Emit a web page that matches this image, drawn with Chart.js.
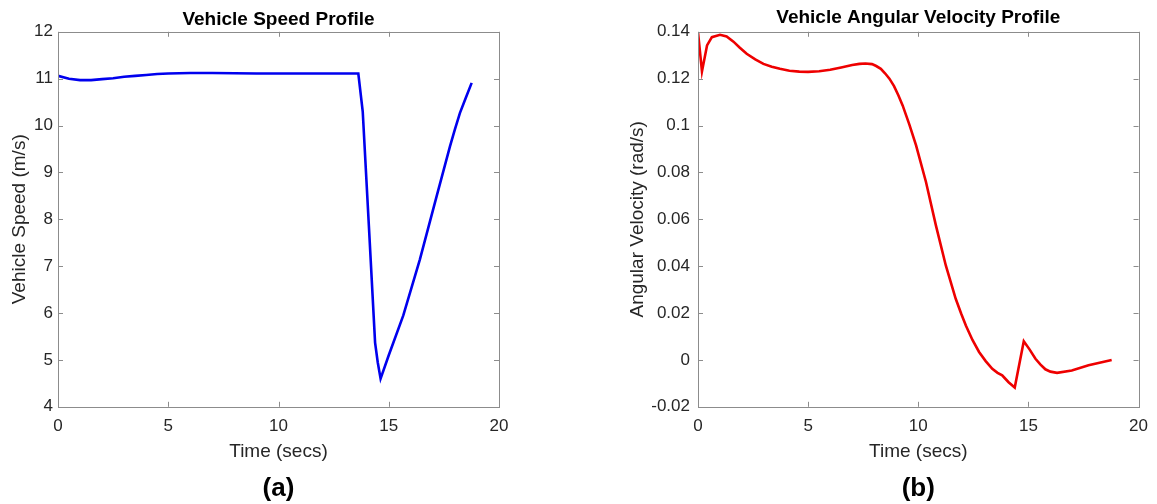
<!DOCTYPE html>
<html>
<head>
<meta charset="utf-8">
<script src="https://cdn.jsdelivr.net/npm/chart.js@4.4.1/dist/chart.umd.min.js"></script>
<style>
  html, body { margin: 0; padding: 0; background: #fff; }
  body { width: 1157px; height: 504px; position: relative; overflow: hidden; }
  canvas { position: absolute; top: 0; }
  #speedChart { left: 0; }
  #angularChart { left: 580px; }
</style>
</head>
<body>
<canvas id="speedChart" width="560" height="504"></canvas>
<canvas id="angularChart" width="577" height="504"></canvas>
<script>
// (a) vehicle speed
const speedTime = [0, 0.5, 1.0, 1.5, 2.0, 2.5, 3.0, 3.5, 4.0, 4.5, 5.0, 6.0, 7.0, 8.0, 9.0, 10.0, 11.0, 12.0, 13.0, 13.62,
  13.82, 14.1, 14.38, 14.5, 14.63, 15.0, 15.66, 16.41, 17.17, 17.78, 18.0, 18.23, 18.5, 18.76];
const speedValues = [11.06, 11.00, 10.97, 10.97, 10.99, 11.01, 11.04, 11.06, 11.08, 11.10, 11.11, 11.12, 11.12, 11.115, 11.11, 11.11, 11.11, 11.11, 11.11, 11.11,
  10.3, 7.85, 5.37, 4.95, 4.60, 5.1, 5.95, 7.14, 8.49, 9.56, 9.92, 10.27, 10.6, 10.91];

// (b) vehicle angular velocity
const angTime = [0, 0.18, 0.41, 0.63, 1.0, 1.3, 1.61, 1.9, 2.21, 2.6, 2.97, 3.35, 3.72, 4.15, 4.6, 5.0, 5.5, 6.0, 6.5, 7.0,
  7.33, 7.6, 7.9, 8.09, 8.3, 8.5, 8.69, 8.9, 9.1, 9.29, 9.6, 9.9, 10.35, 10.8, 11.25, 11.7, 11.95, 12.16, 12.46, 12.76,
  13.06, 13.36, 13.6, 13.81, 13.9, 14.1, 14.38, 14.79, 15.05, 15.32, 15.55, 15.77, 16.0, 16.3, 16.97, 17.73, 18.78];
const angValues = [0.1399, 0.1231, 0.1342, 0.1377, 0.1387, 0.1380, 0.1358, 0.1332, 0.1306, 0.1282, 0.1263, 0.1251, 0.1242, 0.1234, 0.1230, 0.1229, 0.1232, 0.1238, 0.1248, 0.1258,
  0.1263, 0.1265, 0.1262, 0.1254, 0.1242, 0.1222, 0.1200, 0.1168, 0.1128, 0.1086, 0.1003, 0.0915, 0.0759, 0.0574, 0.0403, 0.0261, 0.0197, 0.0147, 0.0085, 0.0034,
  -0.0005, -0.0038, -0.0055, -0.0066, -0.0075, -0.0095, -0.0118, 0.0080, 0.0045, 0.0005, -0.0020, -0.0040, -0.0050, -0.0055, -0.0045, -0.0023, 0.0];

// tick labels
const timeTicks = [0, 5, 10, 15, 20];
const speedTicks = [4, 5, 6, 7, 8, 9, 10, 11, 12];
const angTicks = [-0.02, 0, 0.02, 0.04, 0.06, 0.08, 0.1, 0.12, 0.14];

const FONT = '"Liberation Sans", Arial, sans-serif';
const TEXT = '#262626';

// 画边框和向内的刻度线（MATLAB风格）
const boxTicks = {
  id: 'boxTicks',
  afterDraw(chart) {
    const { ctx, chartArea: a, scales } = chart;
    ctx.save();
    ctx.strokeStyle = '#8c8c8c';
    ctx.lineWidth = 1;
    ctx.beginPath();
    scales.x.ticks.forEach(t => {
      const px = Math.round(scales.x.getPixelForValue(t.value)) + 0.5;
      ctx.moveTo(px, a.bottom); ctx.lineTo(px, a.bottom - 5);
      ctx.moveTo(px, a.top); ctx.lineTo(px, a.top + 5);
    });
    scales.y.ticks.forEach(t => {
      const py = Math.round(scales.y.getPixelForValue(t.value)) + 0.5;
      ctx.moveTo(a.left, py); ctx.lineTo(a.left + 5, py);
      ctx.moveTo(a.right, py); ctx.lineTo(a.right - 5, py);
    });
    ctx.stroke();
    ctx.strokeRect(Math.round(a.left) + 0.5, Math.round(a.top) + 0.5, Math.round(a.width), Math.round(a.height));
    ctx.restore();
  }
};

function buildChart(id, opts) {
  return new Chart(document.getElementById(id), {
    type: 'line',
    data: {
      datasets: [{
        data: opts.time.map((t, i) => ({ x: t, y: opts.values[i] })),
        borderColor: opts.color,
        borderWidth: 2.6,
        pointRadius: 0,
        tension: 0,
        fill: false,
      }]
    },
    options: {
      responsive: false,
      animation: false,
      layout: { padding: { left: 0, right: opts.padRight, top: 0, bottom: 0 } },
      plugins: {
        legend: { display: false },
        tooltip: { enabled: false },
        title: {
          display: true,
          text: opts.title,
          fullSize: false,
          color: '#000',
          font: { family: FONT, size: 19, weight: 'bold' },
          padding: { top: opts.titleTop, bottom: 9 - opts.titleTop }
        },
        subtitle: {
          display: true,
          position: 'bottom',
          text: opts.caption,
          fullSize: false,
          color: '#000',
          font: { family: FONT, size: 26, weight: 'bold' },
          padding: 0
        }
      },
      scales: {
        x: {
          type: 'linear',
          min: 0,
          max: 20,
          afterBuildTicks: s => { s.ticks = timeTicks.map(v => ({ value: v })); },
          afterFit: s => { s.height = 66; },
          grid: { display: false, drawTicks: false },
          border: { display: false },
          ticks: { color: TEXT, padding: 9, font: { family: FONT, size: 17 }, callback: v => String(v) },
          title: {
            display: true,
            text: 'Time (secs)',
            color: TEXT,
            font: { family: FONT, size: 19 },
            padding: { top: 0, bottom: 10 }
          }
        },
        y: {
          type: 'linear',
          min: opts.yTicks[0],
          max: opts.yTicks[opts.yTicks.length - 1],
          afterBuildTicks: s => { s.ticks = opts.yTicks.map(v => ({ value: v })); },
          afterFit: s => { s.width = opts.yWidth; },
          grid: { display: false, drawTicks: false },
          border: { display: false },
          ticks: { color: TEXT, padding: opts.tickPad, font: { family: FONT, size: 17 }, callback: v => String(v) },
          title: {
            display: true,
            text: opts.yLabel,
            color: TEXT,
            font: { family: FONT, size: 19 },
            padding: { top: opts.yTitlePad, bottom: 0 }
          }
        }
      }
    },
    plugins: [boxTicks]
  });
}

buildChart('speedChart', {
  time: speedTime, values: speedValues, color: '#0000ee',
  title: 'Vehicle Speed Profile', caption: '(a)', yLabel: 'Vehicle Speed (m/s)',
  yTicks: speedTicks, yWidth: 58, padRight: 61, tickPad: 5, yTitlePad: 8, titleTop: 8
});

buildChart('angularChart', {
  time: angTime, values: angValues, color: '#ee0000',
  title: 'Vehicle Angular Velocity Profile', caption: '(b)', yLabel: 'Angular Velocity (rad/s)',
  yTicks: angTicks, yWidth: 118, padRight: 17, tickPad: 8, yTitlePad: 46, titleTop: 6.5
});
</script>
</body>
</html>
